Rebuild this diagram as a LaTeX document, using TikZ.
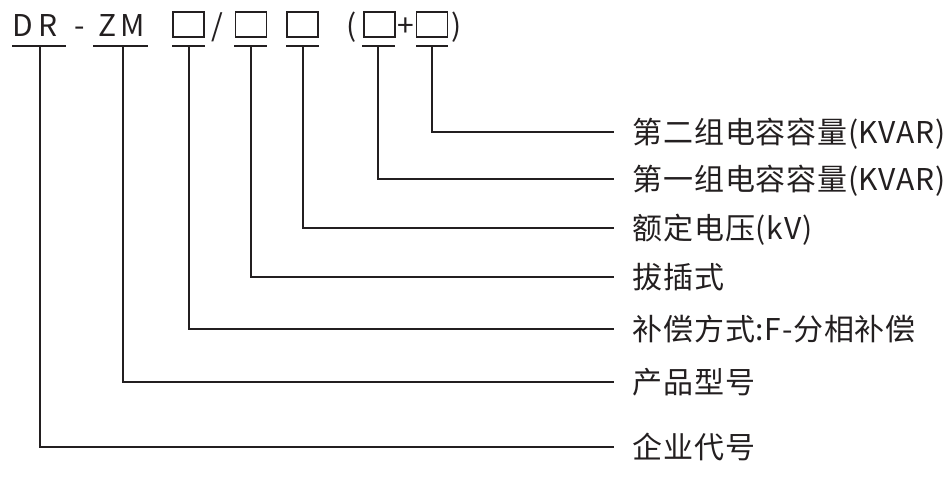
\documentclass[tikz,border=0pt]{standalone}
\usepackage{fontspec}
\setmainfont{Noto Sans CJK SC}
\newfontfamily\descfont{Noto Sans CJK SC}[LetterSpace=2.5]
\usetikzlibrary{positioning}
\definecolor{ink}{RGB}{35,31,32}

\begin{document}
\begin{tikzpicture}[x=1pt, y=-1pt, line width=1.6pt, color=ink,
  code/.style={inner sep=0pt, anchor=base west, font=\fontsize{30}{36}\selectfont},
  slot/.style={draw, line width=1.8pt, minimum width=31pt, minimum height=25pt, inner sep=0pt},
  desc/.style={anchor=west, inner xsep=18pt, inner ysep=0pt, text height=26.4pt, text depth=3.6pt, font=\descfont\fontsize{30}{36}\selectfont}]
  \useasboundingbox (0,0) rectangle (952,487);

  % ===== Model code =====
  \node[code] (dr) at (12,37) {D\kern5pt R};
  \node[code] (dash) at (74,37) {-};
  \node[code] (zm) at (98,37) {Z\kern4pt M};
  \node[slot] (s1) at (188.5,24.5) {};
  \node[code] (slash) at (211,37) {/};
  \node[slot] (s2) at (251,24.5) {};
  \node[slot] (s3) at (302.5,24.5) {};
  \node[code] (lpar) at (346,37) {(};
  \node[slot] (s4) at (379.5,24.5) {};
  \node[code] (plus) at (397,37) {+};
  \node[slot] (s5) at (432,24.5) {};
  \node[code] (rpar) at (451,37) {)};

  % Underlines
  \foreach \a/\b in {12/66, 93/148, 172/205, 234/267, 286/319, 362/395, 416/448}
    \draw (\a,46) -- (\b,46);

  % Taps under the underlines
  \coordinate (tdr) at (40,46);
  \coordinate (tzm) at (123,46);
  \coordinate (t1) at (189,46);
  \coordinate (t2) at (251,46);
  \coordinate (t3) at (303,46);
  \coordinate (t4) at (378,46);
  \coordinate (t5) at (432,46);

  % ===== Meanings =====
  \node[desc] (l5) at (614,132) {第二组电容容量(KVAR)};
  \node[desc] (l4) at (614,179) {第一组电容容量(KVAR)};
  \node[desc] (l3) at (614,228) {额定电压(kV)};
  \node[desc] (l2) at (614,277) {拔插式};
  \node[desc] (l1) at (614,329) {补偿方式:F-分相补偿};
  \node[desc] (lzm) at (614,382) {产品型号};
  \node[desc] (ldr) at (614,447) {企业代号};

  % Leaders
  \foreach \t/\l in {t5/l5, t4/l4, t3/l3, t2/l2, t1/l1, tzm/lzm, tdr/ldr}
    \draw (\t) |- (\l.west);
\end{tikzpicture}
\end{document}
